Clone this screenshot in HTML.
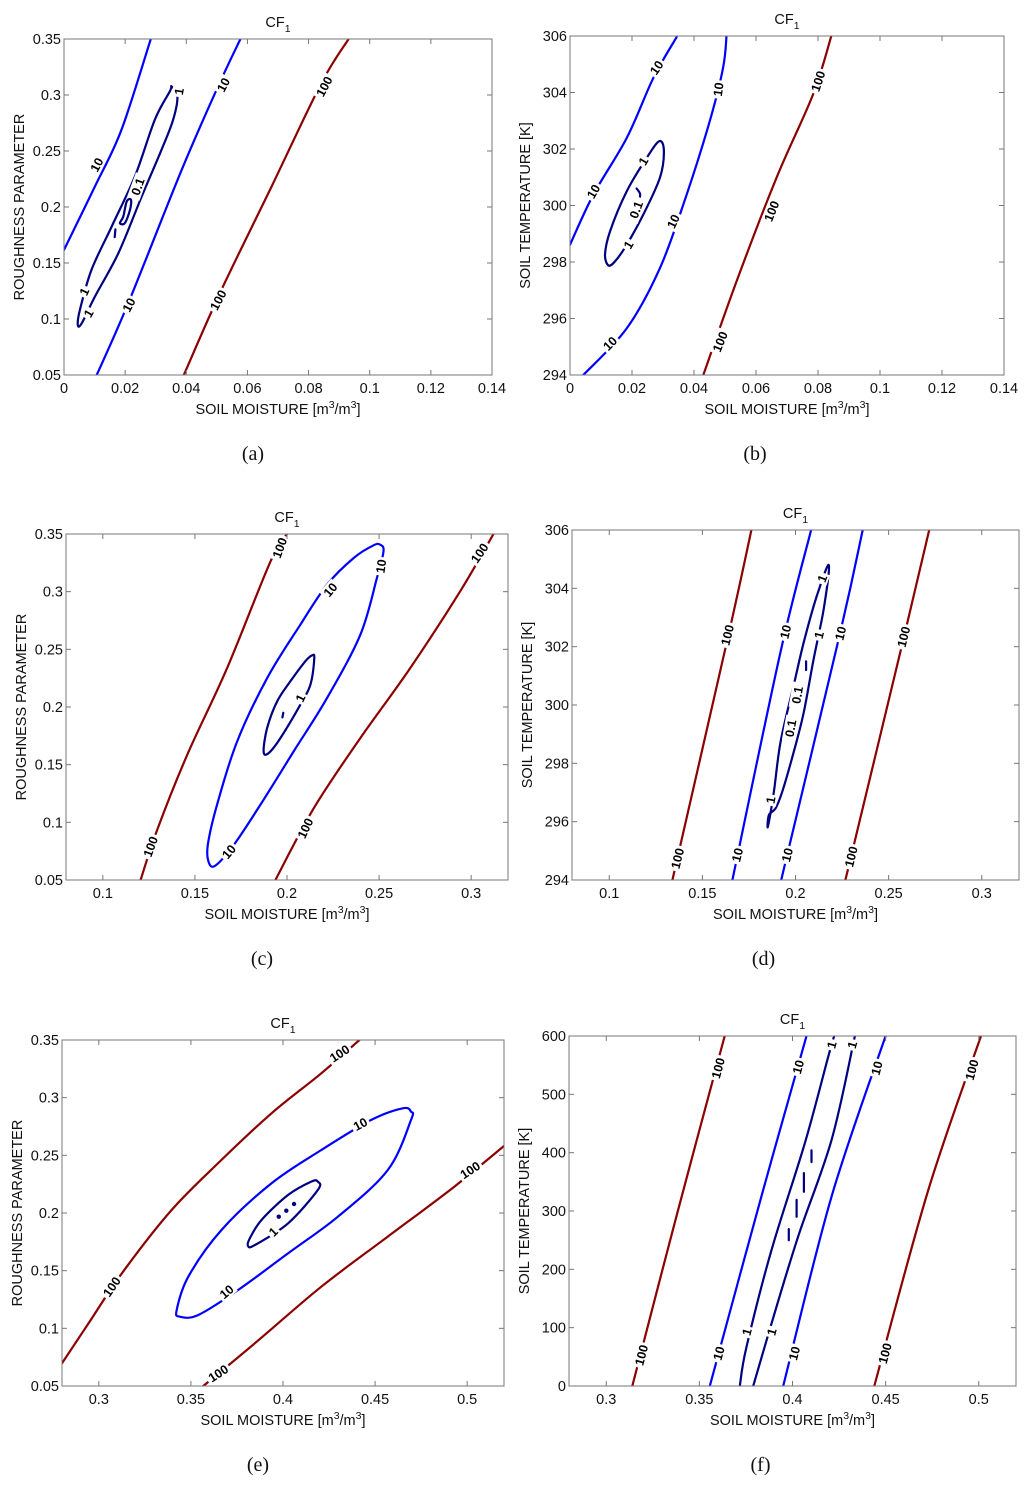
<!DOCTYPE html>
<html><head><meta charset="utf-8">
<style>
html,body{margin:0;padding:0;background:#fff;}
svg{display:block;font-family:"Liberation Sans",Arial,sans-serif;}
.tick{font-size:14.5px;fill:#111;}
.axl{font-size:14.5px;fill:#111;}
.cap{font-family:"Liberation Serif",serif;font-size:20px;fill:#111;}
.clab{font-size:12.5px;font-weight:bold;fill:#000;}
</style></head>
<body>
<svg id="fig" width="1024" height="1485" viewBox="0 0 1024 1485"></svg>
<script>
// ---------- DATA (data units) ----------
// panel a
const a_xticks=[0,0.02,0.04,0.06,0.08,0.1,0.12,0.14];
const a_yticks=[0.05,0.1,0.15,0.2,0.25,0.3,0.35];
const a_c10_left=[[0,0.1617],[0.0101,0.2183],[0.0188,0.269],[0.0284,0.35]];
const a_c10_mid=[[0.0107,0.05],[0.021,0.114],[0.0385,0.2332],[0.0504,0.3077],[0.0577,0.35]];
const a_c100=[[0.0392,0.05],[0.0515,0.126],[0.0679,0.2183],[0.0842,0.3107],[0.0931,0.35]];
const a_c1=[[0.0045,0.0947],[0.0052,0.1081],[0.009,0.1439],[0.0156,0.1826],[0.0232,0.2273],[0.0297,0.2779],[0.0346,0.3032],[0.0352,0.3077],[0.0371,0.2988],[0.0357,0.2779],[0.0319,0.2511],[0.0254,0.2094],[0.0178,0.1588],[0.0101,0.12],[0.0058,0.0962],[0.0045,0.0947]];
const a_c01=[[0.0183,0.1856],[0.0194,0.1915],[0.0205,0.2049],[0.0219,0.2064],[0.0216,0.1975],[0.0199,0.1856],[0.0183,0.1856]];
const a_c01b=[[0.0166,0.173],[0.0168,0.18]];
const a_labels=[["10",0.0107,0.2377,-62],["10",0.0521,0.3092,-62],["10",0.0212,0.1126,-62],["100",0.0851,0.3077,-62],["100",0.0504,0.117,-62],["1",0.0376,0.3032,-80],["1",0.0066,0.1245,-65],["1",0.008,0.1051,-60],["0.1",0.0241,0.2183,-70]];
// panel b
const b_xticks=[0,0.02,0.04,0.06,0.08,0.1,0.12,0.14];
const b_yticks=[294,296,298,300,302,304,306];
const b_c10_left=[[0,298.61],[0.0075,300.38],[0.0183,302.39],[0.0269,304.52],[0.0344,305.96]];
const b_c10_right=[[0.0043,294],[0.0183,295.65],[0.029,297.78],[0.0376,300.38],[0.0451,302.99],[0.0494,304.88],[0.0505,306]];
const b_c100=[[0.043,294],[0.0537,297.31],[0.0666,300.98],[0.0784,303.93],[0.0843,306]];
const b_c1=[[0.0124,297.88],[0.0113,298.26],[0.0129,299.08],[0.0183,300.5],[0.0247,301.68],[0.0288,302.28],[0.0303,301.92],[0.029,300.98],[0.0236,299.67],[0.0183,298.61],[0.0145,298.02],[0.0124,297.88]];
const b_c01=[[0.0215,300.6],[0.0226,300.4],[0.0222,300.1]];
const b_labels=[["10",0.0279,304.88,-55],["10",0.0075,300.5,-60],["10",0.0478,304.11,-82],["10",0.0333,299.44,-65],["10",0.0129,295.12,-45],["100",0.08,304.4,-72],["100",0.065,299.8,-68],["100",0.0484,295.18,-68],["1",0.0236,301.57,-60],["1",0.0188,298.61,-60],["0.1",0.0213,299.85,-70]];
// panel c
const c_xticks=[0.1,0.15,0.2,0.25,0.3];
const c_yticks=[0.05,0.1,0.15,0.2,0.25,0.3,0.35];
const c_c100_left=[[0.1205,0.05],[0.1295,0.0934],[0.1458,0.1585],[0.1675,0.2337],[0.191,0.326],[0.2,0.35]];
const c_c100_right=[[0.1937,0.05],[0.2145,0.1122],[0.2398,0.173],[0.2669,0.2337],[0.294,0.3002],[0.3121,0.35]];
const c_c10=[[0.1575,0.0654],[0.1611,0.0625],[0.1711,0.0804],[0.1855,0.1151],[0.2036,0.1614],[0.2217,0.2077],[0.2398,0.2626],[0.2488,0.3118],[0.2524,0.335],[0.2506,0.3407],[0.247,0.3402],[0.2362,0.3292],[0.2217,0.306],[0.2072,0.2713],[0.1892,0.225],[0.1729,0.17],[0.162,0.1151],[0.157,0.0804],[0.1575,0.0654]];
const c_c1=[[0.1873,0.1614],[0.19,0.16],[0.1964,0.173],[0.2072,0.2019],[0.2127,0.2193],[0.2148,0.2424],[0.2136,0.2447],[0.2099,0.2395],[0.2018,0.2222],[0.1946,0.2048],[0.1892,0.1817],[0.1873,0.1614]];
const c_c01=[[0.1975,0.191],[0.198,0.195]];
const c_labels=[["100",0.196,0.338,-70],["100",0.1259,0.079,-70],["100",0.3045,0.3335,-55],["100",0.2099,0.0949,-65],["10",0.2235,0.3017,-50],["10",0.251,0.322,-82],["10",0.1684,0.0746,-50],["1",0.2072,0.2077,-65]];
// panel d
const d_xticks=[0.1,0.15,0.2,0.25,0.3];
const d_yticks=[294,296,298,300,302,304,306];
const d_c100_left=[[0.1339,294],[0.1652,302.74],[0.1763,306]];
const d_c10_left=[[0.1661,294],[0.192,301.83],[0.2084,306]];
const d_c10_right=[[0.1923,294],[0.2241,302.51],[0.2361,306]];
const d_c100_right=[[0.2268,294],[0.2589,302.51],[0.2718,306]];
const d_c1=[[0.1852,295.83],[0.1884,297.03],[0.192,298.74],[0.1991,300.69],[0.2045,302.17],[0.2116,303.77],[0.2179,304.8],[0.2152,303.31],[0.2098,301.6],[0.2045,299.77],[0.1991,298.4],[0.1929,297.03],[0.1893,296.46],[0.1857,296.23],[0.1852,295.83]];
const d_c01=[[0.2057,301.5],[0.2057,301.2]];
const d_labels=[["100",0.1634,302.4,-76],["100",0.1366,294.74,-76],["100",0.258,302.34,-76],["100",0.2298,294.8,-76],["10",0.1946,302.51,-76],["10",0.1687,294.86,-76],["10",0.2241,302.46,-76],["10",0.1955,294.86,-76],["1",0.2143,304.34,-70],["1",0.2125,302.4,-76],["1",0.1866,296.74,-80],["0.1",0.2009,300.34,-80],["0.1",0.1973,299.2,-80]];
// panel e
const e_xticks=[0.3,0.35,0.4,0.45,0.5];
const e_yticks=[0.05,0.1,0.15,0.2,0.25,0.3,0.35];
const e_c100_upper=[[0.28,0.0697],[0.2944,0.1043],[0.3125,0.1477],[0.3395,0.2026],[0.3666,0.246],[0.3937,0.2864],[0.4208,0.3211],[0.4415,0.35]];
const e_c100_lower=[[0.3567,0.05],[0.3847,0.087],[0.4208,0.1361],[0.4569,0.1795],[0.493,0.2228],[0.52,0.2581]];
const e_c10=[[0.344,0.1101],[0.354,0.1116],[0.3756,0.1332],[0.4027,0.165],[0.4298,0.1968],[0.4569,0.2373],[0.4695,0.2806],[0.4695,0.2879],[0.465,0.2908],[0.4478,0.2806],[0.4208,0.2546],[0.3937,0.2257],[0.3666,0.1853],[0.3486,0.1448],[0.3423,0.1159],[0.344,0.1101]];
const e_c1=[[0.381,0.1714],[0.3847,0.1722],[0.4027,0.191],[0.4189,0.2199],[0.4189,0.2272],[0.4153,0.2272],[0.4027,0.2156],[0.3883,0.1939],[0.382,0.178],[0.381,0.1714]];
const e_dots=[[0.3977,0.1968],[0.4018,0.202],[0.406,0.2078]];
const e_labels=[["100",0.4307,0.3384,-33],["100",0.307,0.1361,-55],["100",0.5016,0.2373,-33],["100",0.3648,0.061,-33],["10",0.442,0.2772,-28],["10",0.3693,0.1318,-40],["1",0.3946,0.1838,-45]];
// panel f
const f_xticks=[0.3,0.35,0.4,0.45,0.5];
const f_yticks=[0,100,200,300,400,500,600];
const f_c100_left=[[0.314,0],[0.3376,290],[0.3636,600]];
const f_c10_left=[[0.3556,0],[0.3833,325],[0.4075,600]];
const f_c1_left=[[0.3717,0],[0.3753,67],[0.3887,233],[0.4066,416],[0.4192,565],[0.4224,600]];
const f_c1_right=[[0.3789,0],[0.3887,107],[0.403,256],[0.421,422],[0.4335,600]];
const f_c10_right=[[0.395,0],[0.421,325],[0.45,600]];
const f_c100_right=[[0.4439,0],[0.4729,336],[0.5012,600]];
const f_c01_a=[[0.4102,384],[0.4102,404]];
const f_c01_b=[[0.4061,333],[0.4061,365]];
const f_c01_c=[[0.4022,290],[0.4022,319]];
const f_c01_d=[[0.398,250],[0.398,269]];
const f_labels=[["100",0.36,545,-75],["100",0.3188,53,-75],["100",0.4962,542,-75],["100",0.4496,56,-75],["10",0.403,547,-75],["10",0.3604,56,-75],["10",0.4452,545,-75],["10",0.4009,56,-75],["1",0.421,585,-75],["1",0.432,585,-75],["1",0.3754,93,-75],["1",0.3887,93,-75]];

// ---------- DRAWING ----------
const NS="http://www.w3.org/2000/svg";
const svg=document.getElementById('fig');
const RED="#8b0000",BLUE="#0000ff",NAVY="#000080";
function mk(tag,attrs,parent){const e=document.createElementNS(NS,tag);for(const k in attrs)e.setAttribute(k,attrs[k]);(parent||svg).appendChild(e);return e;}
function fmt(v){return String(+v.toFixed(4));}
// smooth path through points (Catmull-Rom)
function smooth(P){
  if(P.length<3)return 'M'+P.map(p=>p[0].toFixed(1)+','+p[1].toFixed(1)).join(' L');
  const closed=Math.abs(P[0][0]-P[P.length-1][0])<0.5&&Math.abs(P[0][1]-P[P.length-1][1])<0.5;
  const n=P.length;
  const get=i=>{
    if(closed){const m=n-1;return P[((i%m)+m)%m];}
    return P[Math.max(0,Math.min(n-1,i))];
  };
  let d='M'+P[0][0].toFixed(1)+','+P[0][1].toFixed(1);
  for(let i=0;i<n-1;i++){
    const p0=get(i-1),p1=get(i),p2=get(i+1),p3=get(i+2);
    const c1=[p1[0]+(p2[0]-p0[0])/6,p1[1]+(p2[1]-p0[1])/6];
    const c2=[p2[0]-(p3[0]-p1[0])/6,p2[1]-(p3[1]-p1[1])/6];
    d+=' C'+c1[0].toFixed(1)+','+c1[1].toFixed(1)+' '+c2[0].toFixed(1)+','+c2[1].toFixed(1)+' '+p2[0].toFixed(1)+','+p2[1].toFixed(1);
  }
  return d;
}

function panel(id,box,xr,yr,xt,yt,ylabel,caption,lines,labels,dots){
  const g=mk('g',{});
  
  
  const [L,T,R,B]=box;
  const sx=v=>L+(v-xr[0])/(xr[1]-xr[0])*(R-L);
  const sy=v=>B-(v-yr[0])/(yr[1]-yr[0])*(B-T);
  const cid='clip'+id;
  const cp=mk('clipPath',{id:cid},g);mk('rect',{x:L,y:T,width:R-L,height:B-T},cp);
  const lg=mk('g',{'clip-path':'url(#'+cid+')'},g);
  lines.forEach(([pts,col,nm])=>{
    const P=pts.map(q=>[sx(q[0]),sy(q[1])]);
    const p=mk('path',{d:smooth(P),fill:'none',stroke:col,'stroke-width':2.2,'stroke-linejoin':'round','stroke-linecap':'round'},lg);
    
    
  });
  (dots||[]).forEach(d=>{
    const c=mk('circle',{cx:sx(d[0]),cy:sy(d[1]),r:2.2,fill:NAVY},lg);
    
    
  });
  labels.forEach(([t,x,y,rot])=>{
    const px=sx(x),py=sy(y);
    const lg2=mk('g',{transform:'translate('+px.toFixed(1)+','+py.toFixed(1)+') rotate('+rot+')'},g);
    const w=t.length*7.2+4;
    mk('rect',{x:-w/2,y:-6.5,width:w,height:13,fill:'#fff'},lg2);
    const tx=mk('text',{x:0,y:4.5,'text-anchor':'middle',class:'clab'},lg2);
    tx.textContent=t;
    
    
  });
  const bx=mk('rect',{x:L,y:T,width:R-L,height:B-T,fill:'none',stroke:'#777','stroke-width':1},g);
  
  
  xt.forEach(v=>{
    const X=sx(v);
    mk('line',{x1:X,y1:B,x2:X,y2:B-5,stroke:'#777'},g);
    mk('line',{x1:X,y1:T,x2:X,y2:T+5,stroke:'#777'},g);
    const t=mk('text',{x:X,y:B+18,'text-anchor':'middle',class:'tick'},g);
    t.textContent=fmt(v);
    
    
  });
  yt.forEach(v=>{
    const Y=sy(v);
    mk('line',{x1:L,y1:Y,x2:L+5,y2:Y,stroke:'#777'},g);
    mk('line',{x1:R,y1:Y,x2:R-5,y2:Y,stroke:'#777'},g);
    const t=mk('text',{x:L-3,y:Y+5,'text-anchor':'end',class:'tick'},g);
    t.textContent=fmt(v);
    
    
  });
  const cx=(L+R)/2;
  const ti=mk('text',{x:cx,y:T-12,'text-anchor':'middle',class:'axl'},g);
  ti.innerHTML='CF<tspan dy="5" font-size="10.5">1</tspan>';
  
  
  const xl=mk('text',{x:cx,y:B+39,'text-anchor':'middle',class:'axl'},g);
  xl.innerHTML='SOIL MOISTURE [m<tspan dy="-6" font-size="10.5">3</tspan><tspan dy="6">/m</tspan><tspan dy="-6" font-size="10.5">3</tspan><tspan dy="6">]</tspan>';
  
  
  const yl=mk('text',{x:0,y:0,'text-anchor':'middle',class:'axl',transform:'translate('+(L-40)+','+((T+B)/2)+') rotate(-90)'},g);
  yl.textContent=ylabel;
  
  
  const cp2=mk('text',{x:cx-16+(id==='a'||id==='c'||id==='e'?-9:-16),y:B+85,'text-anchor':'middle',class:'cap'},g);
  cp2.textContent=caption;
  
  
}
const RP='ROUGHNESS PARAMETER',ST='SOIL TEMPERATURE [K]';
panel('a',[64,39,492,375],[0,0.14],[0.05,0.35],a_xticks,a_yticks,RP,'(a)',
 [[a_c10_left,BLUE,'contour-10-left'],[a_c10_mid,BLUE,'contour-10-right'],[a_c100,RED,'contour-100'],[a_c1,NAVY,'contour-1'],[a_c01,NAVY,'contour-0.1'],[a_c01b,NAVY,'contour-0.1-b']],a_labels);
panel('b',[570,36,1004,375],[0,0.14],[294,306],b_xticks,b_yticks,ST,'(b)',
 [[b_c10_left,BLUE,'contour-10-left'],[b_c10_right,BLUE,'contour-10-right'],[b_c100,RED,'contour-100'],[b_c1,NAVY,'contour-1'],[b_c01,NAVY,'contour-0.1']],b_labels);
panel('c',[66,534,508,880],[0.08,0.32],[0.05,0.35],c_xticks,c_yticks,RP,'(c)',
 [[c_c100_left,RED,'contour-100-left'],[c_c100_right,RED,'contour-100-right'],[c_c10,BLUE,'contour-10'],[c_c1,NAVY,'contour-1'],[c_c01,NAVY,'contour-0.1']],c_labels);
panel('d',[572,530,1019,880],[0.08,0.32],[294,306],d_xticks,d_yticks,ST,'(d)',
 [[d_c100_left,RED,'contour-100-left'],[d_c10_left,BLUE,'contour-10-left'],[d_c10_right,BLUE,'contour-10-right'],[d_c100_right,RED,'contour-100-right'],[d_c1,NAVY,'contour-1'],[d_c01,NAVY,'contour-0.1']],d_labels);
panel('e',[62,1040,504,1386],[0.28,0.52],[0.05,0.35],e_xticks,e_yticks,RP,'(e)',
 [[e_c100_upper,RED,'contour-100-upper'],[e_c100_lower,RED,'contour-100-lower'],[e_c10,BLUE,'contour-10'],[e_c1,NAVY,'contour-1']],e_labels,e_dots);
panel('f',[569,1036,1016,1386],[0.28,0.52],[0,600],f_xticks,f_yticks,ST,'(f)',
 [[f_c100_left,RED,'contour-100-left'],[f_c10_left,BLUE,'contour-10-left'],[f_c1_left,NAVY,'contour-1-left'],[f_c1_right,NAVY,'contour-1-right'],[f_c10_right,BLUE,'contour-10-right'],[f_c100_right,RED,'contour-100-right'],[f_c01_a,NAVY,'contour-0.1-a'],[f_c01_b,NAVY,'contour-0.1-b'],[f_c01_c,NAVY,'contour-0.1-c'],[f_c01_d,NAVY,'contour-0.1-d']],f_labels);
</script>
</body></html>
